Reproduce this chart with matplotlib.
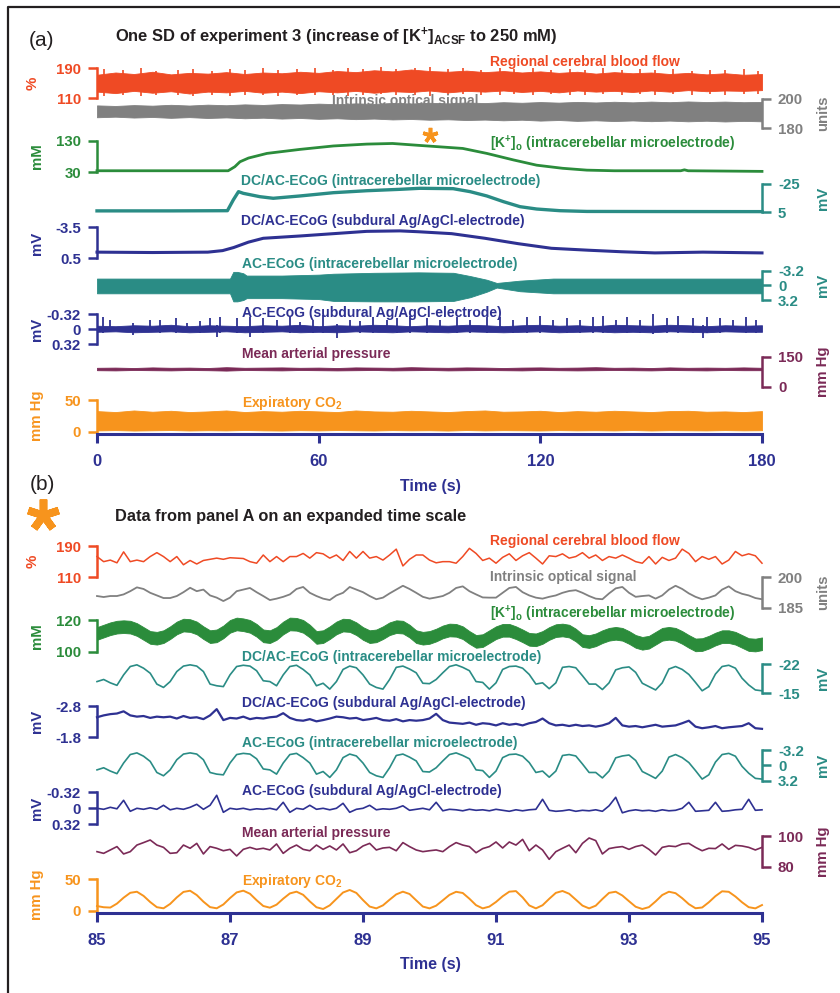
import numpy as np
import matplotlib.pyplot as plt
from matplotlib.lines import Line2D
from matplotlib.transforms import offset_copy

plt.rcParams['font.family'] = ['Liberation Sans', 'DejaVu Sans']
plt.rcParams['font.weight'] = 'bold'
plt.rcParams['mathtext.fontset'] = 'custom'
plt.rcParams['mathtext.rm'] = 'Liberation Sans:bold'
plt.rcParams['mathtext.it'] = 'Liberation Sans:bold'
plt.rcParams['mathtext.bf'] = 'Liberation Sans:bold'
plt.rcParams['mathtext.default'] = 'rm'

RED = '#EF4A24'
GREY = '#808080'
GREEN = '#2B8C3B'
TEAL = '#2A8C85'
NAVY = '#2E3192'
PLUM = '#7B2A57'
ORANGE = '#F7941D'
INK = '#231F20'

# ---------------- panel (a): whole SD, 0-180 s ----------------
t_env_a = np.arange(0, 181, 5)  # envelope sample times (s)

cbf_a_hi = [172, 178, 174, 180, 173, 177, 175, 179, 174, 178, 176, 180, 177, 182, 179, 184, 181, 186, 182,
            180, 183, 179, 182, 178, 181, 177, 180, 175, 179, 176, 178, 174, 177, 173, 176, 172, 174]
cbf_a_lo = [127, 123, 129, 124, 128, 122, 127, 125, 129, 124, 127, 123, 128, 125, 129, 124, 128, 126, 130,
            125, 129, 127, 130, 126, 129, 125, 130, 127, 129, 126, 130, 127, 131, 128, 130, 129, 131]
# single tall excursions sticking out of the dense band
cbf_spk_t = [2, 7, 12, 16, 22, 26, 31, 36, 40, 45, 49, 54, 59, 64, 68, 72, 77, 81, 86, 90, 95, 99, 104,
             109, 113, 118, 123, 128, 132, 137, 142, 147, 151, 156, 161, 166, 170, 175, 179]
cbf_spk_hi = [187, 184, 189, 183, 186, 188, 182, 187, 185, 189, 184, 187, 190, 186, 191, 188, 192, 187,
              190, 193, 188, 191, 186, 189, 187, 190, 185, 188, 186, 189, 184, 187, 185, 188, 183, 186,
              184, 187, 182]
cbf_spk_lo = [116, 118, 115, 117, 119, 116, 118, 115, 117, 119, 116, 118, 117, 119, 116, 118, 120, 117,
              119, 116, 118, 120, 117, 119, 121, 118, 120, 117, 119, 121, 118, 120, 119, 121, 118, 120,
              119, 121, 120]

ios_a_hi = [195.6, 195.2, 195.8, 195.4, 196.0, 195.5, 196.1, 195.7, 196.3, 195.9, 196.5, 196.2, 196.8,
            196.4, 197.0, 196.6, 197.3, 196.9, 197.4, 197.0, 197.6, 197.2, 197.8, 197.4, 197.9, 197.5,
            198.0, 197.6, 198.1, 197.7, 198.2, 197.8, 198.3, 197.9, 198.2, 197.8, 198.0]
ios_a_lo = [187.4, 187.8, 187.2, 187.6, 187.0, 187.5, 186.9, 187.3, 186.7, 187.1, 186.5, 186.9, 186.3,
            186.7, 186.1, 186.5, 185.9, 186.2, 185.7, 186.0, 185.5, 185.8, 185.3, 185.7, 185.1, 185.5,
            184.9, 185.3, 184.8, 185.2, 184.7, 185.1, 184.6, 185.0, 184.5, 184.9, 184.6]

k_a_t = [0, 20, 35.5, 37.3, 38.7, 41, 46, 55, 64, 73, 80, 87, 93, 99, 105.5, 112.7, 119, 126, 132.6,
         140, 150, 158, 159, 160, 170, 180]
k_a_v = [34, 34, 34, 47, 63, 75, 90, 103, 114, 120, 122, 116, 111, 106, 90, 69, 52, 42, 36,
         34, 34, 34, 37, 34, 33, 32]

dci_a_t = [0, 20, 35.3, 36.9, 38.3, 39.6, 44.1, 47.7, 55, 64, 73, 82, 87.4, 96.4, 101, 105.5, 110,
           114.5, 119, 125.3, 132.6, 150, 180]
dci_a_v = [3.8, 3.8, 3.6, -8, -16.8, -15, -11.4, -9.7, -12.2, -15.7, -17.8, -19.3, -20.4, -20, -16.8,
           -12.2, -6.1, -0.7, 1.8, 3.6, 4.4, 4.5, 4.6]

dcs_a_t = [0, 15, 30, 34, 37, 41, 45, 55, 64, 73, 82, 87, 96, 105, 114, 123, 133, 142, 151, 164, 180]
dcs_a_v = [-0.3, -0.25, -0.3, -0.5, -0.9, -1.6, -2.1, -2.4, -2.7, -3.0, -3.06, -2.95, -2.7, -2.1,
           -1.4, -0.8, -0.55, -0.35, -0.2, -0.3, -0.2]

aci_a_t = [0, 36, 36.9, 38, 39.6, 40.5, 50, 60, 64, 75, 87, 96.5, 101, 105.5, 108.2, 114.5, 123.5, 180]
aci_a_neg = [-1.45, -1.45, -2.9, -2.9, -2.6, -2.1, -2.1, -2.3, -2.5, -2.7, -2.8, -2.7, -2.0, -1.2,
             -0.5, -1.0, -1.45, -1.45]
aci_a_pos = [1.75, 1.75, 3.5, 3.5, 3.2, 2.8, 2.8, 3.0, 3.4, 3.5, 3.5, 3.4, 2.6, 1.4, 0.5, 1.3, 1.75, 1.75]

acs_a_hi = [-0.07, -0.06, -0.08, -0.07, -0.09, -0.06, -0.08, -0.07, -0.06, -0.08, -0.07, -0.09, -0.06,
            -0.08, -0.07, -0.09, -0.08, -0.06, -0.08, -0.07, -0.09, -0.08, -0.06, -0.08, -0.09, -0.07,
            -0.08, -0.06, -0.09, -0.08, -0.07, -0.09, -0.08, -0.06, -0.08, -0.07, -0.08]
acs_a_lo = [0.06, 0.05, 0.07, 0.06, 0.05, 0.07, 0.06, 0.05, 0.07, 0.06, 0.05, 0.07, 0.06, 0.07, 0.05,
            0.06, 0.07, 0.05, 0.06, 0.07, 0.05, 0.06, 0.07, 0.06, 0.05, 0.07, 0.06, 0.05, 0.07, 0.06,
            0.07, 0.05, 0.06, 0.07, 0.05, 0.06, 0.06]
spike_a_t = [1.7, 3.5, 9.8, 14.4, 17.0, 21.5, 24.3, 27.9, 30.6, 32.4, 33.3, 37.8, 41.4, 45.0, 48.6,
             52.3, 54.9, 58.5, 61.3, 64.9, 68.5, 71.2, 74.8, 78.4, 81.1, 84.7, 89.2, 92.8, 97.4,
             101.0, 105.5, 109.1, 112.7, 116.3, 119.9, 123.5, 127.1, 130.7, 134.3, 137.0, 140.6,
             143.4, 147.0, 150.6, 154.2, 157.3, 161.4, 164.1, 165.0, 168.6, 172.2, 175.8, 178.5]
spike_a_up = [-0.26, -0.19, -0.12, -0.19, -0.20, -0.23, -0.12, -0.18, -0.23, -0.08, -0.26, -0.23,
              -0.26, -0.23, -0.19, -0.25, -0.16, -0.19, -0.30, -0.10, -0.20, -0.18, -0.26, -0.19,
              -0.23, -0.28, -0.23, -0.19, -0.26, -0.20, -0.26, -0.25, -0.20, -0.25, -0.28, -0.19,
              -0.23, -0.20, -0.26, -0.28, -0.20, -0.26, -0.20, -0.33, -0.23, -0.28, -0.23, -0.08,
              -0.25, -0.23, -0.19, -0.25, -0.20]
spike_a_dn = [0.08, 0.06, 0.13, 0.07, 0.08, 0.09, 0.06, 0.08, 0.07, 0.16, 0.08, 0.09, 0.16, 0.08,
              0.07, 0.09, 0.06, 0.08, 0.09, 0.20, 0.07, 0.08, 0.09, 0.07, 0.08, 0.09, 0.08, 0.07,
              0.09, 0.08, 0.09, 0.07, 0.08, 0.09, 0.08, 0.07, 0.09, 0.08, 0.09, 0.08, 0.07, 0.09,
              0.08, 0.10, 0.08, 0.09, 0.08, 0.20, 0.08, 0.09, 0.07, 0.08, 0.09]

map_a_hi = [96, 97, 95, 98, 96, 97, 95, 99, 96, 97, 98, 96, 97, 95, 98, 97, 96, 99, 97,
            96, 98, 97, 95, 97, 98, 96, 97, 99, 96, 97, 95, 98, 96, 97, 96, 98, 96]
map_a_lo = [84, 83, 85, 84, 83, 85, 84, 82, 85, 84, 83, 85, 84, 83, 84, 85, 83, 84, 85,
            83, 84, 85, 84, 83, 85, 84, 83, 84, 85, 84, 83, 85, 84, 83, 85, 84, 84]

co2_a_hi = [32.5, 31.0, 33.5, 31.5, 33.0, 31.0, 32.0, 33.5, 31.0, 32.5, 31.5, 33.0, 32.0, 31.0,
            33.5, 32.0, 31.5, 33.0, 32.0, 31.0, 32.5, 33.5, 31.5, 32.0, 33.0, 31.0, 32.5, 31.5,
            33.0, 32.0, 31.0, 32.5, 33.0, 31.5, 32.0, 31.0, 32.5]
co2_a_lo = [2.0, 2.5, 1.8, 2.2, 2.6, 1.9, 2.3, 2.0, 2.7, 2.1, 1.8, 2.4, 2.0, 2.6, 2.2, 1.9, 2.5,
            2.1, 2.3, 1.8, 2.6, 2.0, 2.4, 2.2, 1.9, 2.5, 2.1, 2.3, 2.0, 2.6, 1.9, 2.4, 2.2, 2.0,
            2.5, 2.1, 2.3]

# ---------------- panel (b): 85-95 s expanded ----------------
t_b = np.linspace(85, 95, 101)

cbf_b = [163, 150, 154, 147, 175, 150, 154, 150, 163, 173,
         163, 150, 163, 142, 153, 144, 153, 156, 159, 156,
         160, 159, 158, 150, 146, 167, 150, 163, 150, 163,
         163, 171, 159, 173, 170, 159, 167, 153, 176, 159,
         176, 159, 163, 154, 167, 182, 139, 156, 167, 167,
         154, 147, 150, 150, 146, 163, 184, 171, 153, 159,
         146, 161, 170, 153, 165, 173, 159, 144, 165, 163,
         170, 159, 163, 173, 159, 167, 153, 163, 159, 167,
         159, 150, 146, 163, 144, 161, 153, 159, 182, 171,
         150, 163, 156, 163, 144, 154, 176, 165, 170, 165,
         146]

ios_b = [190.7, 190.2, 190.7, 190.7, 191.5, 193.1, 195.0, 194.2, 192.3, 191.0,
         189.7, 189.7, 190.7, 192.6, 194.8, 193.1, 193.9, 191.0, 189.9, 188.2,
         189.9, 193.1, 193.9, 194.7, 192.6, 190.7, 188.7, 189.4, 190.3, 191.5,
         194.2, 195.2, 192.3, 190.7, 189.4, 188.7, 191.0, 192.3, 195.2, 193.9,
         192.6, 190.7, 189.1, 189.9, 192.0, 193.9, 195.8, 194.2, 192.3, 190.3,
         189.4, 190.0, 190.7, 192.3, 194.7, 195.5, 193.1, 191.5, 190.0, 189.9,
         189.9, 192.3, 194.7, 195.2, 192.6, 191.0, 189.9, 189.4, 190.3, 191.0,
         192.3, 193.2, 193.6, 192.3, 190.7, 189.4, 189.1, 192.0, 194.5, 195.2,
         192.3, 190.3, 190.7, 191.0, 189.4, 191.0, 193.9, 195.8, 194.2, 192.0,
         190.3, 189.1, 189.9, 191.0, 193.9, 195.5, 193.1, 191.8, 191.0, 189.7,
         189.1]

k_b = [111.5, 113, 114.5, 115.5, 115.8, 115.5, 114, 111.5, 109, 108.5,
       109.5, 112, 115, 116.8, 116.5, 115, 112, 109.5, 110, 112.5,
       116, 117.5, 117, 116, 113.5, 110, 109.5, 111.5, 115, 117.5,
       117.3, 116, 113, 109, 109.5, 112, 115, 116.8, 116.5, 114.5,
       111.5, 109.5, 110, 112, 114.5, 115.8, 115.5, 113, 109.5, 108.5,
       109, 110.5, 112.5, 113.7, 113.5, 112, 109, 106.5, 107, 109.5,
       112, 113.5, 113.5, 112, 110, 107.8, 107.5, 109, 111.5, 113.3,
       113.7, 113, 110.5, 107, 106.4, 107.5, 109.5, 111, 111.6, 111,
       109, 106.5, 105.3, 106, 108.5, 111, 111.6, 111, 109, 106.5,
       104.3, 104.5, 106, 108, 109.5, 109.5, 108.5, 106.5, 104.5, 104.2,
       105]
k_b_halfwidth = 4.0  # band thickness of the fast oscillation (mM)

dci_b = [-17.8, -18.3, -17.5, -16.9, -19.4, -21.4, -21.8, -21.0, -19.8, -17.2,
         -16.4, -17.8, -20.2, -21.5, -21.8, -21.5, -20.2, -17.2, -16.8, -16.6,
         -19.4, -21.4, -21.7, -21.5, -20.4, -18.0, -17.8, -16.8, -19.4, -21.4,
         -21.7, -20.7, -19.4, -16.8, -17.4, -16.0, -17.8, -20.7, -21.5, -21.1,
         -19.4, -17.2, -16.4, -16.0, -18.3, -21.2, -21.5, -20.8, -19.9, -17.4,
         -17.3, -18.3, -19.9, -21.4, -21.8, -21.2, -20.4, -17.8, -17.6, -16.0,
         -17.5, -20.7, -21.4, -21.5, -21.0, -19.5, -17.2, -17.5, -16.1, -17.5,
         -21.2, -21.4, -21.1, -19.2, -17.2, -17.2, -15.9, -17.5, -20.6, -21.1,
         -21.3, -20.0, -17.4, -16.6, -15.8, -17.5, -20.8, -21.4, -20.7, -19.5,
         -17.6, -15.6, -16.6, -19.6, -21.4, -21.7, -21.0, -18.6, -17.0, -15.8,
         -15.6]

dcs_b = [-2.44, -2.50, -2.54, -2.56, -2.63, -2.50, -2.46, -2.48, -2.42, -2.46,
         -2.44, -2.46, -2.40, -2.48, -2.42, -2.44, -2.38, -2.50, -2.70, -2.35,
         -2.42, -2.40, -2.46, -2.38, -2.42, -2.40, -2.44, -2.46, -2.57, -2.42,
         -2.35, -2.33, -2.38, -2.31, -2.35, -2.40, -2.46, -2.44, -2.40, -2.42,
         -2.35, -2.38, -2.42, -2.35, -2.33, -2.38, -2.31, -2.35, -2.33, -2.35,
         -2.40, -2.55, -2.35, -2.27, -2.25, -2.23, -2.27, -2.20, -2.25, -2.23,
         -2.18, -2.25, -2.20, -2.23, -2.18, -2.25, -2.29, -2.40, -2.25, -2.18,
         -2.20, -2.16, -2.20, -2.16, -2.18, -2.14, -2.18, -2.25, -2.42, -2.18,
         -2.14, -2.16, -2.12, -2.16, -2.20, -2.14, -2.16, -2.18, -2.25, -2.33,
         -2.14, -2.09, -2.12, -2.16, -2.09, -2.12, -2.14, -2.16, -2.25, -2.09,
         -2.07]

aci_b = [0.95, 0.5, 1.2, 1.75, -0.5, -2.3, -2.65, -1.95, -0.85, 1.5,
         2.2, 0.95, -1.2, -2.4, -2.65, -2.4, -1.2, 1.5, 1.85, 2.0,
         -0.5, -2.3, -2.55, -2.4, -1.4, 0.75, 0.95, 1.85, -0.5, -2.3,
         -2.55, -1.65, -0.5, 1.85, 1.3, 2.55, 0.95, -1.65, -2.4, -2.0,
         -0.5, 1.5, 2.2, 2.55, 0.5, -2.1, -2.4, -1.75, -0.95, 1.3,
         1.4, 0.5, -0.95, -2.3, -2.65, -2.1, -1.4, 0.95, 1.1, 2.55,
         1.2, -1.65, -2.3, -2.4, -1.95, -0.6, 1.5, 1.2, 2.5, 1.2,
         -2.1, -2.3, -2.0, -0.3, 1.5, 1.5, 2.65, 1.2, -1.6, -2.0,
         -2.2, -1.05, 1.3, 2.0, 2.75, 1.2, -1.75, -2.3, -1.65, -0.6,
         1.1, 2.9, 2.0, -0.7, -2.3, -2.55, -1.95, 0.2, 1.65, 2.75,
         2.9]

acs_b = [0.0, 0.02, -0.02, 0.01, -0.16, 0.06, 0.0, 0.02, -0.01, 0.02,
         -0.06, 0.03, 0.0, 0.02, -0.02, -0.08, 0.02, -0.06, -0.26, 0.08,
         0.0, 0.02, 0.0, 0.03, 0.01, 0.02, 0.0, 0.03, -0.12, 0.08,
         0.0, 0.02, -0.06, 0.02, 0.0, 0.03, 0.0, -0.10, 0.08, 0.02,
         0.0, -0.06, 0.03, 0.01, 0.02, 0.0, -0.05, 0.04, 0.02, 0.0,
         0.03, -0.12, 0.05, 0.02, 0.03, 0.05, 0.02, 0.04, 0.03, 0.05,
         0.02, 0.04, 0.06, 0.03, 0.05, 0.03, 0.02, -0.18, 0.04, 0.06,
         0.05, 0.03, 0.06, 0.04, 0.05, 0.03, 0.06, -0.05, -0.22, 0.09,
         0.05, 0.03, 0.05, 0.04, 0.06, 0.03, 0.05, 0.04, 0.0, -0.12,
         0.06, 0.05, 0.04, -0.12, 0.06, 0.05, 0.03, 0.02, -0.18, 0.04,
         0.03]

map_b = [89.8, 88.7, 90.9, 93.1, 88.3, 89.8, 94.1, 95.7, 97.4, 94.1,
         92.6, 88.7, 89.1, 94.1, 92.0, 95.2, 88.3, 93.1, 92.0, 90.4,
         91.3, 87.0, 91.3, 92.6, 91.3, 92.0, 90.9, 94.8, 88.7, 92.0,
         94.1, 91.3, 90.4, 94.1, 91.3, 93.5, 90.9, 94.8, 89.1, 90.4,
         93.5, 95.2, 90.9, 92.2, 92.6, 90.4, 95.7, 93.1, 90.9, 89.8,
         90.4, 90.9, 89.8, 93.1, 95.7, 94.1, 93.1, 89.1, 91.8, 93.1,
         96.1, 92.2, 96.1, 94.1, 97.8, 90.4, 94.1, 90.9, 84.8, 89.8,
         92.0, 94.1, 89.1, 95.2, 98.7, 97.0, 88.3, 91.8, 92.6, 93.1,
         91.3, 93.1, 94.1, 91.3, 87.6, 92.6, 93.5, 93.1, 94.8, 95.2,
         92.6, 90.4, 92.0, 91.8, 94.8, 91.3, 93.9, 93.5, 92.6, 90.9,
         92.6]

co2_b = [7.4, 5.5, 5.0, 11.3, 20.7, 28.5, 30.2, 23.6, 13.8, 5.6,
         3.8, 10.8, 21.2, 29.9, 31.8, 24.9, 14.4, 5.7, 3.8, 9.9,
         20.1, 29.1, 31.9, 27.0, 16.7, 7.5, 4.8, 9.6, 19.1, 27.5,
         30.3, 25.3, 14.8, 5.5, 2.7, 8.5, 18.8, 29.0, 33.0, 28.3,
         16.9, 6.6, 3.7, 8.5, 17.5, 26.0, 30.3, 26.6, 16.5, 6.6,
         3.7, 8.0, 16.5, 25.2, 30.1, 28.2, 19.1, 8.8, 3.7, 6.5,
         13.9, 23.0, 30.3, 31.2, 21.2, 8.4, 3.7, 8.7, 18.9, 28.4,
         31.4, 27.0, 17.6, 8.1, 3.7, 8.0, 18.6, 28.4, 30.2, 24.2,
         15.1, 6.3, 2.7, 5.7, 14.8, 25.0, 30.2, 27.9, 19.9, 10.4,
         3.9, 5.1, 13.4, 23.2, 30.9, 30.1, 22.6, 13.4, 5.6, 3.7,
         9.0]

zoom_window = (85, 95)

# ---------------- figure ----------------
W, H = 840, 993
X0, X1 = 97, 762
fig = plt.figure(figsize=(W / 100, H / 100), dpi=100)


def fx(x):
    return x / W


def fy(y):
    return 1 - y / H


def scale_ax(top, bot, v_top, v_bot, xlim, side, color, ticks, labels, unit, ux):
    ax = fig.add_axes([fx(X0), fy(bot), (X1 - X0) / W, (bot - top) / H])
    ax.set_xlim(*xlim)
    ax.set_ylim(v_bot, v_top)
    ax.patch.set_visible(False)
    for s in ax.spines.values():
        s.set_visible(False)
    sp = ax.spines[side]
    sp.set_visible(True)
    sp.set_color(color)
    sp.set_linewidth(1.8)
    sp.set_capstyle('projecting')
    ax.set_xticks([])
    ax.yaxis.set_ticks_position(side)
    ax.set_yticks(ticks)
    ax.set_yticklabels(labels)
    ax.tick_params(axis='y', colors=color, length=6.5, width=1.8, labelsize=10.8, pad=5)
    ax.text((ux - X0) / (X1 - X0), 0.5, unit, transform=ax.transAxes, rotation=90,
            ha='center', va='center', color=color, fontsize=10.8)
    return ax


def time_axis(ax, ticks):
    sp = ax.spines['bottom']
    sp.set_visible(True)
    sp.set_color(NAVY)
    sp.set_linewidth(2.2)
    sp.set_position(('outward', 1.8))
    ax.set_xticks(ticks)
    ax.set_xticklabels([str(v) for v in ticks])
    ax.tick_params(axis='x', colors=NAVY, length=6.2, width=2.2, labelsize=12, pad=8)


LW = dict(clip_on=False)
xa = (0, 180)
xb = zoom_window
K_ION = '[K$^{{+}}$]'

# ---- panel (a)
ax = scale_ax(68, 98, 190, 110, xa, 'left', RED, [190, 110], ['190', '110'], '%', 33)
ax.fill_between(t_env_a, cbf_a_lo, cbf_a_hi, color=RED, lw=0.6, **LW)
ax.vlines(cbf_spk_t, cbf_spk_lo, cbf_spk_hi, color=RED, lw=1.2, **LW)

ax = scale_ax(99, 128, 200, 180, xa, 'right', GREY, [200, 180], ['200', '180'], 'units', 823)
ax.fill_between(t_env_a, ios_a_lo, ios_a_hi, color=GREY, lw=0.6, **LW)

ax_k = scale_ax(141, 172, 130, 30, xa, 'left', GREEN, [130, 30], ['130', '30'], 'mM', 37)
ax_k.plot(k_a_t, k_a_v, color=GREEN, lw=2.0, **LW)
star_tr = offset_copy(ax_k.transData, fig=fig, y=6, units='points')
ax_k.plot([np.mean(zoom_window)], [max(k_a_v)], marker=(5, 2, 0), ms=11, mew=2.6,
          color=ORANGE, transform=star_tr, **LW)

ax = scale_ax(184, 212, -25, 5, xa, 'right', TEAL, [-25, 5], ['-25', '5'], 'mV', 823)
ax.plot(dci_a_t, dci_a_v, color=TEAL, lw=2.4, **LW)

ax = scale_ax(227.5, 258.3, -3.5, 0.5, xa, 'left', NAVY, [-3.5, 0.5], ['-3.5', '0.5'], 'mV', 37)
ax.plot(dcs_a_t, dcs_a_v, color=NAVY, lw=2.2, **LW)

ax = scale_ax(270.5, 300, -3.2, 3.2, xa, 'right', TEAL, [-3.2, 0, 3.2], ['-3.2', '0', '3.2'], 'mV', 823)
ax.fill_between(aci_a_t, aci_a_neg, aci_a_pos, color=TEAL, lw=0.6, **LW)

ax = scale_ax(314, 344, -0.32, 0.32, xa, 'left', NAVY, [-0.32, 0, 0.32], ['-0.32', '0', '0.32'], 'mV', 37)
ax.fill_between(t_env_a, acs_a_lo, acs_a_hi, color=NAVY, lw=0.6, **LW)
ax.vlines(spike_a_t, spike_a_up, spike_a_dn, color=NAVY, lw=1.3, **LW)

ax = scale_ax(357, 387, 150, 0, xa, 'right', PLUM, [150, 0], ['150', '0'], 'mm Hg', 823)
ax.fill_between(t_env_a, map_a_lo, map_a_hi, color=PLUM, lw=0.6, **LW)

ax = scale_ax(400, 431.7, 50, 0, xa, 'left', ORANGE, [50, 0], ['50', '0'], 'mm Hg', 37)
ax.fill_between(t_env_a, co2_a_lo, co2_a_hi, color=ORANGE, lw=0.6, **LW)
time_axis(ax, [0, 60, 120, 180])

# ---- panel (b)
ax = scale_ax(546, 577.3, 190, 110, xb, 'left', RED, [190, 110], ['190', '110'], '%', 33)
ax.plot(t_b, cbf_b, color=RED, lw=1.1, **LW)

ax = scale_ax(577.3, 607.5, 200, 185, xb, 'right', GREY, [200, 185], ['200', '185'], 'units', 823)
ax.plot(t_b, ios_b, color=GREY, lw=1.3, **LW)

ax = scale_ax(620, 651.7, 120, 100, xb, 'left', GREEN, [120, 100], ['120', '100'], 'mM', 37)
ax.fill_between(t_b, np.array(k_b) - k_b_halfwidth, np.array(k_b) + k_b_halfwidth,
                color=GREEN, lw=0.6, **LW)

ax = scale_ax(664, 693.3, -22, -15, xb, 'right', TEAL, [-22, -15], ['-22', '-15'], 'mV', 823)
ax.plot(t_b, dci_b, color=TEAL, lw=1.2, **LW)

ax = scale_ax(706, 737.3, -2.8, -1.8, xb, 'left', NAVY, [-2.8, -1.8], ['-2.8', '-1.8'], 'mV', 37)
ax.plot(t_b, dcs_b, color=NAVY, lw=1.6, **LW)

ax = scale_ax(750.3, 780.5, -3.2, 3.2, xb, 'right', TEAL, [-3.2, 0, 3.2], ['-3.2', '0', '3.2'], 'mV', 823)
ax.plot(t_b, aci_b, color=TEAL, lw=1.2, **LW)

ax = scale_ax(792.3, 824.3, -0.32, 0.32, xb, 'left', NAVY, [-0.32, 0, 0.32], ['-0.32', '0', '0.32'], 'mV', 37)
ax.plot(t_b, acs_b, color=NAVY, lw=1.2, **LW)

ax = scale_ax(836, 866.7, 100, 80, xb, 'right', PLUM, [100, 80], ['100', '80'], 'mm Hg', 823)
ax.plot(t_b, map_b, color=PLUM, lw=1.2, **LW)

ax = scale_ax(879.3, 910.7, 50, 0, xb, 'left', ORANGE, [50, 0], ['50', '0'], 'mm Hg', 37)
ax.plot(t_b, co2_b, color=ORANGE, lw=1.4, **LW)
time_axis(ax, [85, 87, 89, 91, 93, 95])

# ---- trace names
names_a = [
    ('Regional cerebral blood flow', 490, 62, RED),
    ('Intrinsic optical signal', 332, 101, GREY),
    (K_ION + '$_o$ (intracerebellar microelectrode)', 490, 144, GREEN),
    ('DC/AC-ECoG (intracerebellar microelectrode)', 241, 181.5, TEAL),
    ('DC/AC-ECoG (subdural Ag/AgCl-electrode)', 241, 221, NAVY),
    ('AC-ECoG (intracerebellar microelectrode)', 242, 264, TEAL),
    ('AC-ECoG (subdural Ag/AgCl-electrode)', 242, 312.5, NAVY),
    ('Mean arterial pressure', 242, 354, PLUM),
    ('Expiratory CO$_2$', 242, 402.5, ORANGE),
]
names_b = [
    ('Regional cerebral blood flow', 490, 541.5, RED),
    ('Intrinsic optical signal', 490, 577.5, GREY),
    (K_ION + '$_o$ (intracerebellar microelectrode)', 490, 614, GREEN),
    ('DC/AC-ECoG (intracerebellar microelectrode)', 242, 656.5, TEAL),
    ('DC/AC-ECoG (subdural Ag/AgCl-electrode)', 242, 703.5, NAVY),
    ('AC-ECoG (intracerebellar microelectrode)', 242, 743.5, TEAL),
    ('AC-ECoG (subdural Ag/AgCl-electrode)', 242, 791.5, NAVY),
    ('Mean arterial pressure', 242, 833.5, PLUM),
    ('Expiratory CO$_2$', 242, 881.5, ORANGE),
]
for s, x, y, c in names_a + names_b:
    fig.text(fx(x), fy(y), s, color=c, fontsize=10, ha='left', va='center')

# ---- titles, panel letters, axis names
fig.text(fx(115), fy(37), 'One SD of experiment 3 (increase of ' + K_ION + '$_{ACSF}$ to 250 mM)',
         color=INK, fontsize=11.9, ha='left', va='center')
fig.text(fx(115), fy(517), 'Data from panel A on an expanded time scale',
         color=INK, fontsize=11.8, ha='left', va='center')
fig.text(fx(42), fy(41), '(a)', color=INK, fontsize=15, fontweight='normal', ha='center', va='center')
fig.text(fx(42), fy(485), '(b)', color=INK, fontsize=15, fontweight='normal', ha='center', va='center')
fig.text(fx(430), fy(487), 'Time (s)', color=NAVY, fontsize=11.5, ha='center', va='center')
fig.text(fx(430), fy(965), 'Time (s)', color=NAVY, fontsize=11.5, ha='center', va='center')

fig.add_artist(Line2D([fx(43)], [fy(515)], marker=(5, 2, 0), ms=23, mew=5.5, color=ORANGE,
                      transform=fig.transFigure))

# frame of the original figure box
fig.add_artist(Line2D([fx(8), fx(8), 1], [0, fy(7), fy(7)], color=INK, lw=1.6,
                      transform=fig.transFigure))

fig.savefig('out.png', dpi=100)
